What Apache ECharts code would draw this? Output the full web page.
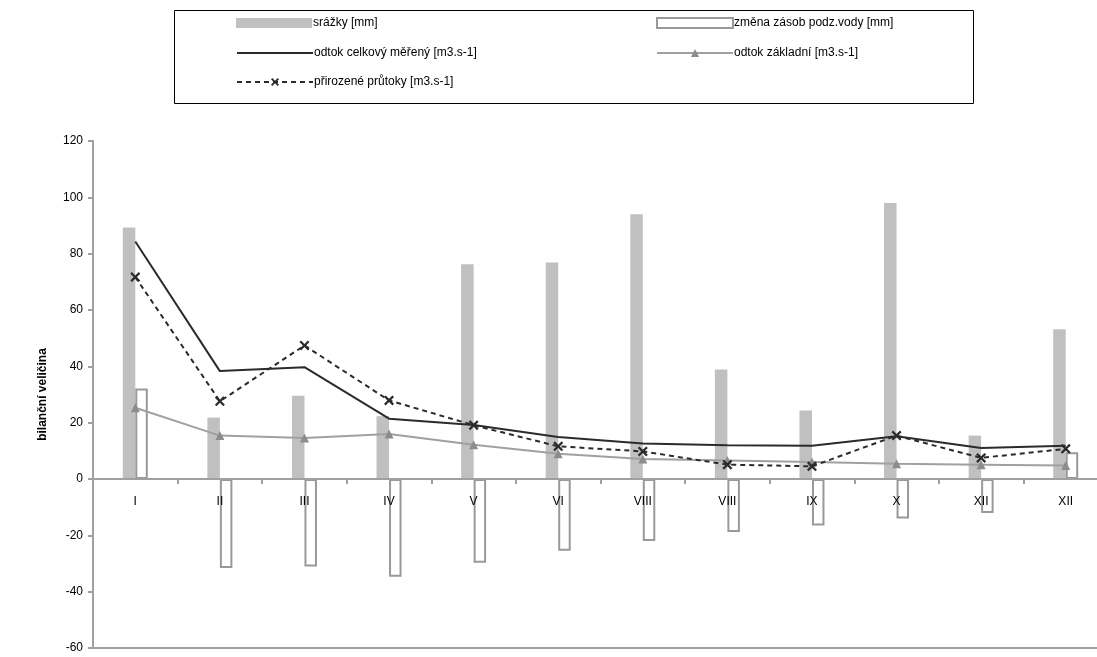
<!DOCTYPE html>
<html>
<head>
<meta charset="utf-8">
<script src="https://cdn.jsdelivr.net/npm/echarts@6/dist/echarts.min.js"></script>
<style>
  html, body { margin: 0; padding: 0; background: #fff; }
  #chart { width: 1097px; height: 657px; }
</style>
</head>
<body>
<div id="chart"></div>
<script>
// Monthly water balance values
const months = ['I', 'II', 'III', 'IV', 'V', 'VI', 'VIII', 'VIII', 'IX', 'X', 'XII', 'XII'];
const srazky = [89.3, 21.8, 29.6, 22.3, 76.2, 76.9, 94.0, 38.9, 24.3, 98.0, 15.4, 53.2];
const zmenaZasob = [32.1, -31.6, -31.1, -34.7, -29.7, -25.5, -22.0, -18.8, -16.5, -14.0, -12.1, 9.5];
const odtokCelkovy = [84.3, 38.3, 39.7, 21.4, 19.2, 14.9, 12.6, 12.0, 11.8, 15.2, 11.0, 11.8];
const odtokZakladni = [25.3, 15.4, 14.6, 16.0, 12.2, 9.0, 7.1, 6.6, 6.0, 5.4, 5.1, 4.8];
const prirozenePrutoky = [71.7, 27.6, 47.4, 27.9, 19.1, 11.6, 9.8, 5.1, 4.5, 15.4, 7.5, 10.7];

const seriesNames = [
  'srážky [mm]',
  'změna zásob podz.vody [mm]',
  'odtok celkový měřený [m3.s-1]',
  'odtok základní [m3.s-1]',
  'přirozené průtoky [m3.s-1]'
];

const Y_MIN = -60;
const Y_MAX = 120;
const Y_STEP = 20;

const GRID = { left: 93, top: 141, width: 1015, height: 507 };
// lift the category axis from the bottom edge up to the value 0
const ZERO_OFFSET = -(0 - Y_MIN) / (Y_MAX - Y_MIN) * GRID.height;

const FONT = 'Liberation Sans, Arial, sans-serif';
const AXIS_GREY = '#a0a0a0';
const CROSS = 'path://M0,1.6 L1.6,0 L5,3.4 L8.4,0 L10,1.6 L6.6,5 L10,8.4 L8.4,10 L5,6.6 L1.6,10 L0,8.4 L3.4,5 Z';

// one legend block per entry so the entries sit in two columns
function legendAt(item, left, top) {
  return {
    data: [item],
    left: left,
    top: top,
    orient: 'horizontal',
    padding: 0,
    itemWidth: 76,
    itemHeight: 10,
    selectedMode: false,
    textStyle: { fontFamily: FONT, fontSize: 12, color: '#000', padding: [0, 0, 0, -4] }
  };
}

const chart = echarts.init(document.getElementById('chart'), null, { renderer: 'canvas' });

chart.setOption({
  animation: false,
  backgroundColor: '#fff',
  graphic: [{
    type: 'rect',
    left: 172, top: 8,
    shape: { width: 799, height: 93 },
    style: { fill: 'none', stroke: '#000', lineWidth: 1 },
    silent: true
  }],
  legend: [
    legendAt({ name: seriesNames[0], icon: 'rect' }, 236, 17),
    legendAt({ name: seriesNames[1], icon: 'rect' }, 656, 17),
    legendAt({ name: seriesNames[2], itemStyle: { opacity: 0 } }, 236, 47),
    legendAt({ name: seriesNames[3] }, 656, 47),
    legendAt({ name: seriesNames[4] }, 236, 76)
  ],
  grid: Object.assign({ containLabel: false, outerBoundsMode: 'none' }, GRID),
  xAxis: {
    type: 'category',
    data: months,
    boundaryGap: true,
    position: 'bottom',
    offset: ZERO_OFFSET,
    z: 10,
    axisLine: { onZero: false, lineStyle: { color: AXIS_GREY, width: 2 } },
    axisTick: { show: true, inside: false, length: 5, alignWithLabel: false, lineStyle: { color: AXIS_GREY, width: 2 } },
    axisLabel: { margin: 17, fontFamily: FONT, fontSize: 12, color: '#000', interval: 0 },
    splitLine: { show: false }
  },
  yAxis: {
    type: 'value',
    min: Y_MIN,
    max: Y_MAX,
    interval: Y_STEP,
    name: 'bilanční veličina',
    nameLocation: 'middle',
    nameGap: 44,
    nameRotate: 90,
    nameTextStyle: { fontFamily: FONT, fontSize: 12, fontWeight: 'bold', color: '#000' },
    axisLine: { show: true, lineStyle: { color: AXIS_GREY, width: 2 } },
    axisTick: { show: true, inside: false, length: 5, lineStyle: { color: AXIS_GREY, width: 2 } },
    axisLabel: { margin: 10, fontFamily: FONT, fontSize: 12, color: '#000' },
    splitLine: { show: false }
  },
  series: [
    {
      name: seriesNames[0],
      type: 'bar',
      data: srazky,
      barWidth: 12.5,
      barGap: '0%',
      itemStyle: { color: '#c0c0c0' },
      z: 1,
      // baseline along the bottom of the plot area
      markLine: {
        silent: true,
        symbol: 'none',
        label: { show: false },
        lineStyle: { color: AXIS_GREY, width: 2, type: 'solid' },
        data: [{ yAxis: Y_MIN }]
      }
    },
    {
      name: seriesNames[1],
      type: 'bar',
      data: zmenaZasob,
      barWidth: 12.5,
      barGap: '0%',
      itemStyle: { color: '#fff', borderColor: '#999', borderWidth: 2 },
      z: 2
    },
    {
      name: seriesNames[2],
      type: 'line',
      data: odtokCelkovy,
      symbol: 'none',
      lineStyle: { color: '#2b2b2b', width: 2 },
      itemStyle: { color: '#2b2b2b' },
      z: 4
    },
    {
      name: seriesNames[3],
      type: 'line',
      data: odtokZakladni,
      symbol: 'triangle',
      symbolSize: 9,
      lineStyle: { color: '#a0a0a0', width: 2 },
      itemStyle: { color: '#8c8c8c' },
      z: 3
    },
    {
      name: seriesNames[4],
      type: 'line',
      data: prirozenePrutoky,
      symbol: CROSS,
      symbolSize: 10,
      lineStyle: { color: '#2b2b2b', width: 2, type: [5, 4] },
      itemStyle: { color: '#2b2b2b' },
      z: 5
    }
  ]
});
</script>
</body>
</html>
